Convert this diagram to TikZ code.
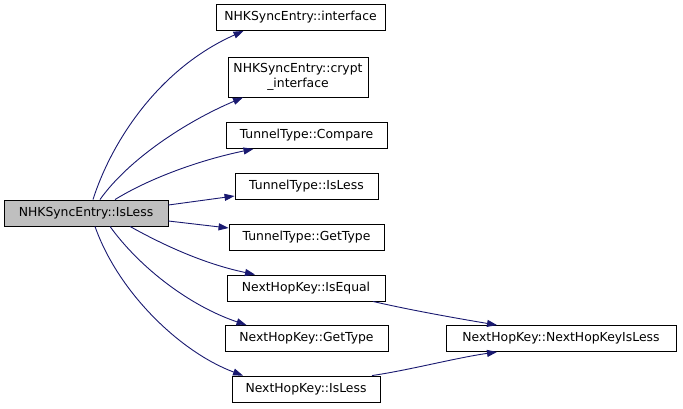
\documentclass[tikz,border=0pt]{standalone}
\usepackage{fontspec}
\setmainfont{DejaVu Sans}
\usetikzlibrary{arrows.meta,positioning}
\definecolor{cgEdge}{RGB}{25,25,112}
\definecolor{cgRootFill}{RGB}{191,191,191}

\begin{document}
\begin{tikzpicture}[
      x=1pt, y=-1pt,
      fnbox/.style={rectangle, draw=black, line width=0.9pt, fill=white,
        minimum height=26pt, inner xsep=4pt, inner ysep=3pt,
        align=center, font=\fontsize{12.4}{14.5}\selectfont},
      rootbox/.style={fnbox, fill=cgRootFill},
      call/.style={-{Triangle[length=10pt,width=7pt,fill=cgEdge]},
        draw=cgEdge, line width=0.9pt},
    ]
    \useasboundingbox (0,0) rectangle (683,408);

    % ---- caller ----
    \node[rootbox, minimum width=164pt] (isless) at (86,213) {NHKSyncEntry::IsLess};

    % ---- callees, first column ----
    \node[fnbox, minimum width=169pt] (iface) at (300.5,17.5) {NHKSyncEntry::interface};
    \node[fnbox, minimum width=140pt, minimum height=40pt] (crypt) at (298,77)
      {NHKSyncEntry::crypt\\\_interface};
    \node[fnbox, minimum width=161pt] (ttcmp) at (306.5,135.5) {TunnelType::Compare};
    \node[fnbox, minimum width=143pt] (ttless) at (306.5,186) {TunnelType::IsLess};
    \node[fnbox, minimum width=155pt] (tttype) at (306.5,237) {TunnelType::GetType};
    \node[fnbox, minimum width=158pt] (nheq) at (306,288) {NextHopKey::IsEqual};
    \node[fnbox, minimum width=163pt] (nhtype) at (306.5,338.5) {NextHopKey::GetType};
    \node[fnbox, minimum width=148pt] (nhless) at (306,389) {NextHopKey::IsLess};

    % ---- second column ----
    \node[fnbox, minimum width=230pt] (nhkless) at (561,338.5) {NextHopKey::NextHopKeyIsLess};

    % ---- calls ----
    \draw[call] ([xshift=7pt]isless.north) .. controls (112,140) and (160,68) ..
      ([xshift=-57pt]iface.south);
    \draw[call] ([xshift=14pt]isless.north) .. controls (128,160) and (185,122) ..
      ([xshift=-55pt]crypt.south);
    \draw[call] ([xshift=29pt]isless.north) .. controls (150,178) and (200,160) ..
      ([xshift=-53pt]ttcmp.south);
    \draw[call] ([yshift=8pt]isless.east) -- ([yshift=-10pt]ttless.west);
    \draw[call] ([yshift=-8pt]isless.east) -- ([yshift=9pt]tttype.west);
    \draw[call] ([xshift=44pt]isless.south) .. controls (165,246) and (205,264) ..
      ([xshift=-51pt]nheq.north);
    \draw[call] ([xshift=24pt]isless.south) .. controls (140,268) and (190,306) ..
      ([xshift=-60pt]nhtype.north);
    \draw[call] ([xshift=9pt]isless.south) .. controls (118,292) and (180,352) ..
      ([xshift=-63pt]nhless.north);
    \draw[call] ([xshift=67pt]nheq.south) .. controls (410,310) and (455,318) ..
      ([xshift=-64pt]nhkless.north);
    \draw[call] ([xshift=66pt]nhless.north) .. controls (410,370) and (455,358) ..
      ([xshift=-64pt]nhkless.south);
  \end{tikzpicture}
\end{document}
